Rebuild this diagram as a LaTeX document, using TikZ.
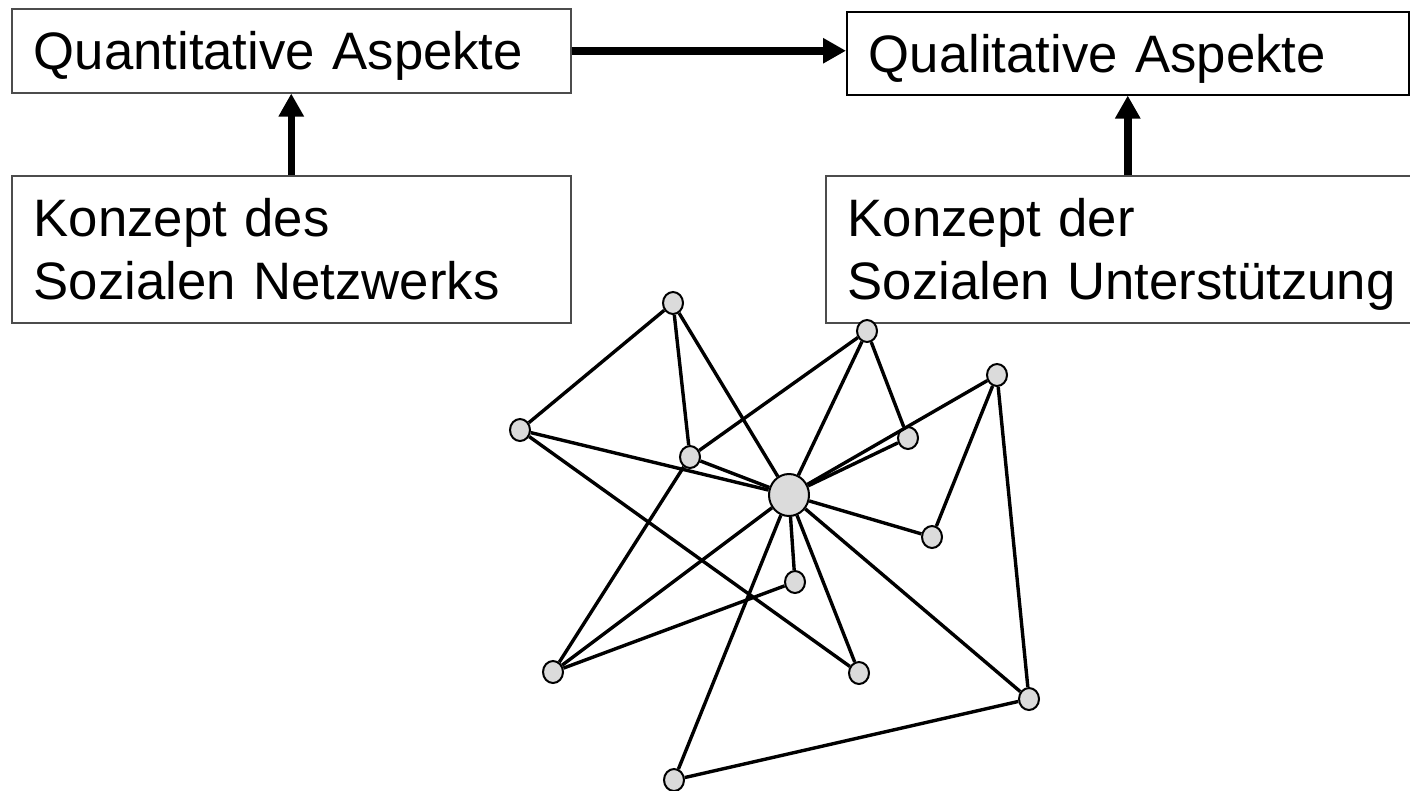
\documentclass[tikz,border=0pt]{standalone}
\usepackage{fontspec}
\setmainfont{Liberation Sans}
\usetikzlibrary{arrows.meta,shapes.geometric}
\begin{document}
\begin{tikzpicture}[x=1pt,y=-1pt,
  box/.style={draw=gray!60!black, line width=1.5pt, anchor=north west, align=left,
    inner xsep=22pt, inner ysep=0pt,
    font=\fontsize{52.7pt}{63pt}\selectfont, text height=37.7pt},
  bigarrow/.style={line width=7.5pt, -{Triangle[length=23pt,width=24pt]}},
  person/.style={ellipse, draw=black, line width=2pt, fill=gray!28,
    minimum width=20pt, minimum height=22pt, inner sep=0pt},
  ego/.style={person, minimum width=40pt, minimum height=42pt},
  tie/.style={line width=3.4pt, black}]
\clip (0,0) rectangle (1410,790);
\fill[white] (0,0) rectangle (1410,790);
% boxes
\node[box, text width=515pt, minimum height=84pt, text depth=0pt] (q1) at (11,8) {Quantitative Aspekte};
\node[box, text width=515pt, minimum height=147pt, text depth=63pt] (k1) at (11,175) {Konzept des\\Sozialen Netzwerks};
\node[box, draw=black, text width=518pt, minimum height=83pt, text depth=0pt] (q2) at (846,11) {Qualitative Aspekte};
\node[box, text width=560pt, minimum height=147pt, text depth=63pt] (k2) at (825,175) {Konzept der\\Sozialen Unterstützung};
% arrows
\draw[bigarrow] (q1.east) -- (q1.east -| q2.west);
\draw[bigarrow] (k1.north) -- (q1.south);
\draw[bigarrow] (k2.north) -- (k2.north |- q2.south);
% network nodes
\node[ego] (Z) at (789,495) {};
\node[person] (A) at (673,303) {};
\node[person] (B) at (520,430) {};
\node[person] (C) at (690,457) {};
\node[person] (D) at (867,331) {};
\node[person] (E) at (908,438) {};
\node[person] (F) at (997,375) {};
\node[person] (G) at (932,537) {};
\node[person] (H) at (795,582) {};
\node[person] (I) at (553,672) {};
\node[person] (J) at (859,673) {};
\node[person] (K) at (1029,699) {};
\node[person] (L) at (674,780) {};
% ties
\draw[tie] (A) -- (B);
\draw[tie] (A) -- (C);
\draw[tie] (A) -- (Z);
\draw[tie] (B) -- (Z);
\draw[tie] (B) -- (J);
\draw[tie] (C) -- (Z);
\draw[tie] (C) -- (D);
\draw[tie] (C) -- (I);
\draw[tie] (D) -- (Z);
\draw[tie] (D) -- (E);
\draw[tie] (E) -- (Z);
\draw[tie] (F) -- (Z);
\draw[tie] (F) -- (G);
\draw[tie] (F) -- (K);
\draw[tie] (G) -- (Z);
\draw[tie] (H) -- (Z);
\draw[tie] (H) -- (I);
\draw[tie] (I) -- (Z);
\draw[tie] (J) -- (Z);
\draw[tie] (K) -- (Z);
\draw[tie] (L) -- (Z);
\draw[tie] (L) -- (K);
\end{tikzpicture}
\end{document}
